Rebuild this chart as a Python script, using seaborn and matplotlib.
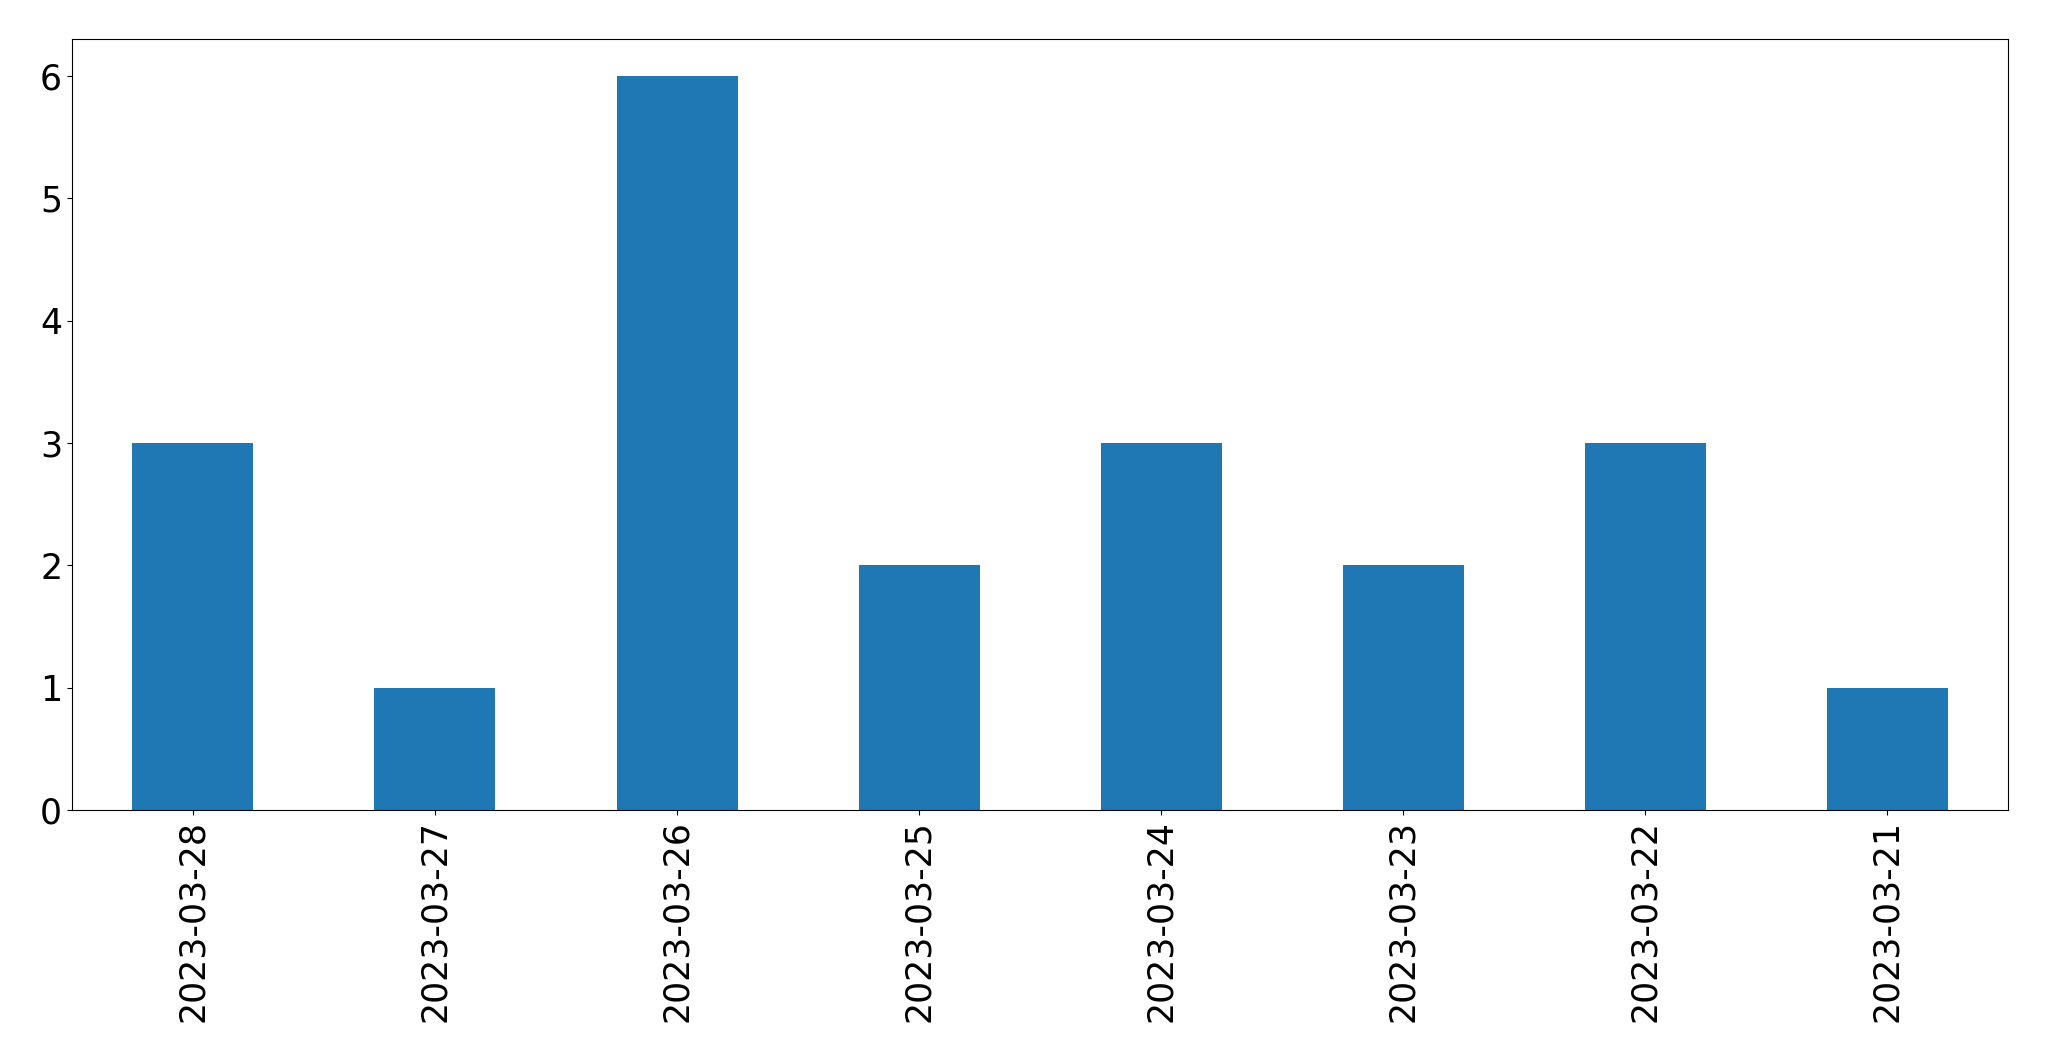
import pandas as pd
import seaborn as sns
import matplotlib
matplotlib.use("Agg")
import matplotlib.pyplot as plt

# daily counts, newest first
dates = ["2023-03-28", "2023-03-27", "2023-03-26", "2023-03-25",
         "2023-03-24", "2023-03-23", "2023-03-22", "2023-03-21"]
counts = [3, 1, 6, 2, 3, 2, 3, 1]

df = pd.DataFrame({"date": dates, "count": counts})

fig = plt.figure(figsize=(20.49, 10.61), dpi=100)
ax = fig.add_axes([0.0351, 0.2365, 0.945, 0.7265])

sns.barplot(x="date", y="count", data=df, order=dates, color="#1f77b4",
            saturation=1, width=0.5, ax=ax)

ax.set_xlabel("")
ax.set_ylabel("")
ax.set_xlim(-0.5, len(dates) - 0.5)
ax.tick_params(axis="x", labelrotation=90, labelsize=25)
ax.tick_params(axis="y", labelsize=25)

fig.savefig("out.png", dpi=100)
